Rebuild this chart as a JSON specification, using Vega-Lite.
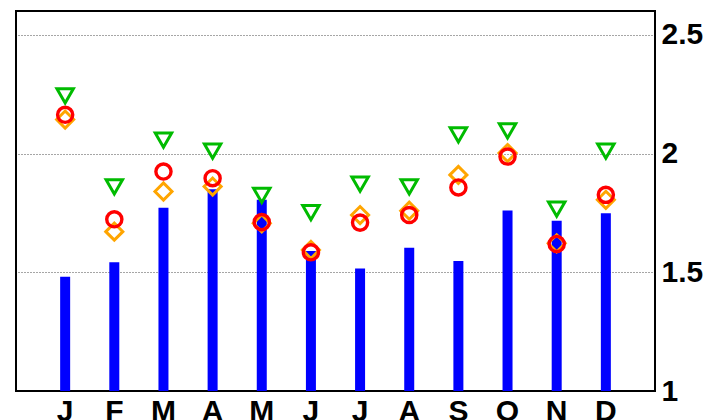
{
  "$schema": "https://vega.github.io/schema/vega-lite/v6.json",
  "width": 639,
  "height": 380,
  "autosize": "none",
  "padding": {"left": 16, "top": 11, "right": 52, "bottom": 29},
  "background": "white",
  "config": {
    "view": {"stroke": "#000", "strokeWidth": 2}
  },
  "data": {
    "values": [
      {"month": "Jan", "bar": 1.481, "diam": 2.143, "circ": 2.163, "tri": 2.243},
      {"month": "Feb", "bar": 1.542, "diam": 1.671, "circ": 1.723, "tri": 1.859},
      {"month": "Mar", "bar": 1.772, "diam": 1.840, "circ": 1.924, "tri": 2.056},
      {"month": "Apr", "bar": 1.850, "diam": 1.861, "circ": 1.896, "tri": 2.010},
      {"month": "May", "bar": 1.805, "diam": 1.706, "circ": 1.711, "tri": 1.824},
      {"month": "Jun", "bar": 1.590, "diam": 1.594, "circ": 1.584, "tri": 1.751},
      {"month": "Jul", "bar": 1.516, "diam": 1.741, "circ": 1.709, "tri": 1.871},
      {"month": "Aug", "bar": 1.603, "diam": 1.759, "circ": 1.741, "tri": 1.859},
      {"month": "Sep", "bar": 1.547, "diam": 1.910, "circ": 1.857, "tri": 2.078},
      {"month": "Oct", "bar": 1.760, "diam": 2.002, "circ": 1.987, "tri": 2.095},
      {"month": "Nov", "bar": 1.717, "diam": 1.622, "circ": 1.619, "tri": 1.766},
      {"month": "Dec", "bar": 1.748, "diam": 1.805, "circ": 1.826, "tri": 2.010}
    ]
  },
  "encoding": {
    "x": {
      "field": "month", "type": "ordinal", "sort": null,
      "scale": {"paddingInner": 0, "paddingOuter": 0.5},
      "axis": {"title": null, "labelAngle": 0, "ticks": false, "domain": false, "labelPadding": 5, "labelExpr": "substring(datum.label,0,1)", "labelFont": "Liberation Sans", "labelFontWeight": "bold", "labelFontSize": 30, "labelColor": "#000"}
    }
  },
  "layer": [
    {
      "mark": {"type": "bar", "color": "#0000ff", "width": 10},
      "encoding": {
        "y": {
          "field": "bar", "type": "quantitative",
          "scale": {"domain": [1, 2.6], "nice": false, "zero": false},
          "axis": {"orient": "right", "title": null, "values": [1, 1.5, 2, 2.5], "format": "~g", "ticks": false, "domain": false, "labelPadding": 6, "labelBaseline": "middle", "labelFont": "Liberation Sans", "labelFontWeight": "bold", "labelFontSize": 30, "labelColor": "#000", "grid": true, "gridColor": "#000", "gridDash": [1, 2], "gridOpacity": 0.7, "gridWidth": 1}
        },
        "y2": {"datum": 1}
      }
    },
    {
      "mark": {"type": "point", "shape": "diamond", "filled": false, "color": "#ffa500", "strokeWidth": 3, "size": 290, "opacity": 1},
      "encoding": {"y": {"field": "diam", "type": "quantitative"}}
    },
    {
      "mark": {"type": "point", "shape": "circle", "filled": false, "color": "#ff0000", "strokeWidth": 3.4, "size": 230, "opacity": 1},
      "encoding": {"y": {"field": "circ", "type": "quantitative"}}
    },
    {
      "mark": {"type": "point", "shape": "triangle-down", "filled": false, "color": "#00bb00", "strokeWidth": 3, "size": 270, "opacity": 1},
      "encoding": {"y": {"field": "tri", "type": "quantitative"}}
    }
  ]
}
